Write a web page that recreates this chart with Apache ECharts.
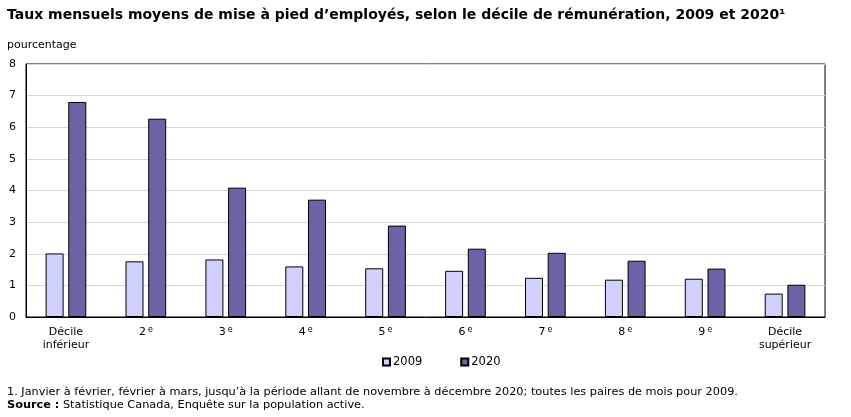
<!DOCTYPE html>
<html><head><meta charset="utf-8">
<script src="https://cdn.jsdelivr.net/npm/echarts@6/dist/echarts.min.js"></script>
<style>html,body{margin:0;padding:0;background:#fff}#c{width:851px;height:417px}</style>
</head><body><div id="c"></div>
<script>
const categories = ['Décile\ninférieur', '2{s|e}', '3{s|e}', '4{s|e}', '5{s|e}', '6{s|e}', '7{s|e}', '8{s|e}', '9{s|e}', 'Décile\nsupérieur'];
const values2009 = [2.01, 1.76, 1.82, 1.60, 1.54, 1.46, 1.24, 1.18, 1.21, 0.74];
const values2020 = [6.80, 6.27, 4.09, 3.71, 2.89, 2.16, 2.03, 1.78, 1.53, 1.02];
const yTicks = [0, 1, 2, 3, 4, 5, 6, 7, 8];
const seriesNames = ['2009', '2020'];

const FONT = 'DejaVu Sans, Verdana, sans-serif';
const chart = echarts.init(document.getElementById('c'), null, {renderer: 'canvas'});
chart.setOption({
  animation: false,
  backgroundColor: '#fff',
  textStyle: {fontFamily: FONT, color: '#000'},
  title: [
    {text: 'Taux mensuels moyens de mise à pied d’employés, selon le décile de rémunération, 2009 et 2020¹', left: 7, top: 8, padding: 0,
     textStyle: {fontFamily: FONT, fontSize: 14, fontWeight: 'bold', color: '#000'}},
    {text: 'pourcentage', left: 7, top: 40, padding: 0, textStyle: {fontFamily: FONT, fontSize: 11, fontWeight: 'normal', color: '#000'}},
    {text: '1. Janvier à février, février à mars, jusqu’à la période allant de novembre à décembre 2020; toutes les paires de mois pour 2009.\n{b|Source :} Statistique Canada, Enquête sur la population active.',
     left: 7, top: 386, padding: 0,
     textStyle: {fontFamily: FONT, fontSize: 11.3, fontWeight: 'normal', color: '#000', lineHeight: 13,
       rich: {b: {fontFamily: FONT, fontSize: 11.3, fontWeight: 'bold', color: '#000'}}}}
  ],
  legend: {
    data: seriesNames, top: 351, left: 377, itemWidth: 7, itemHeight: 7, itemGap: 38,
    icon: 'rect',
    textStyle: {fontFamily: FONT, fontSize: 11.5, color: '#000', padding: [0, 0, 0, -2]}
  },
  grid: {left: 26, right: 26, top: 64, bottom: 100, show: true, borderColor: '#000', borderWidth: 1, containLabel: false},
  xAxis: {
    type: 'category', data: categories,
    axisLine: {show: true, lineStyle: {color: '#000', width: 1}},
    axisTick: {show: false},
    axisLabel: {color: '#000', fontFamily: FONT, fontSize: 11, margin: 9, lineHeight: 13, interval: 0,
      rich: {s: {fontSize: 8, verticalAlign: 'top', padding: [0, 0, 6, 2], color: '#000', fontFamily: FONT}}}
  },
  yAxis: {
    type: 'value', min: yTicks[0], max: yTicks[yTicks.length - 1], interval: 1,
    axisLine: {show: true, lineStyle: {color: '#000'}},
    axisTick: {show: false},
    axisLabel: {color: '#000', fontFamily: FONT, fontSize: 11, margin: 10},
    splitLine: {show: true, lineStyle: {color: '#d9d9d9', width: 1}}
  },
  series: [
    {name: seriesNames[0], type: 'bar', data: values2009, barWidth: 18, barGap: '26%',
     itemStyle: {color: '#d0d0ff', borderColor: '#000', borderWidth: 1}},
    {name: seriesNames[1], type: 'bar', data: values2020, barWidth: 18,
     itemStyle: {color: '#6e62a6', borderColor: '#000', borderWidth: 1}}
  ]
});
</script></body></html>
